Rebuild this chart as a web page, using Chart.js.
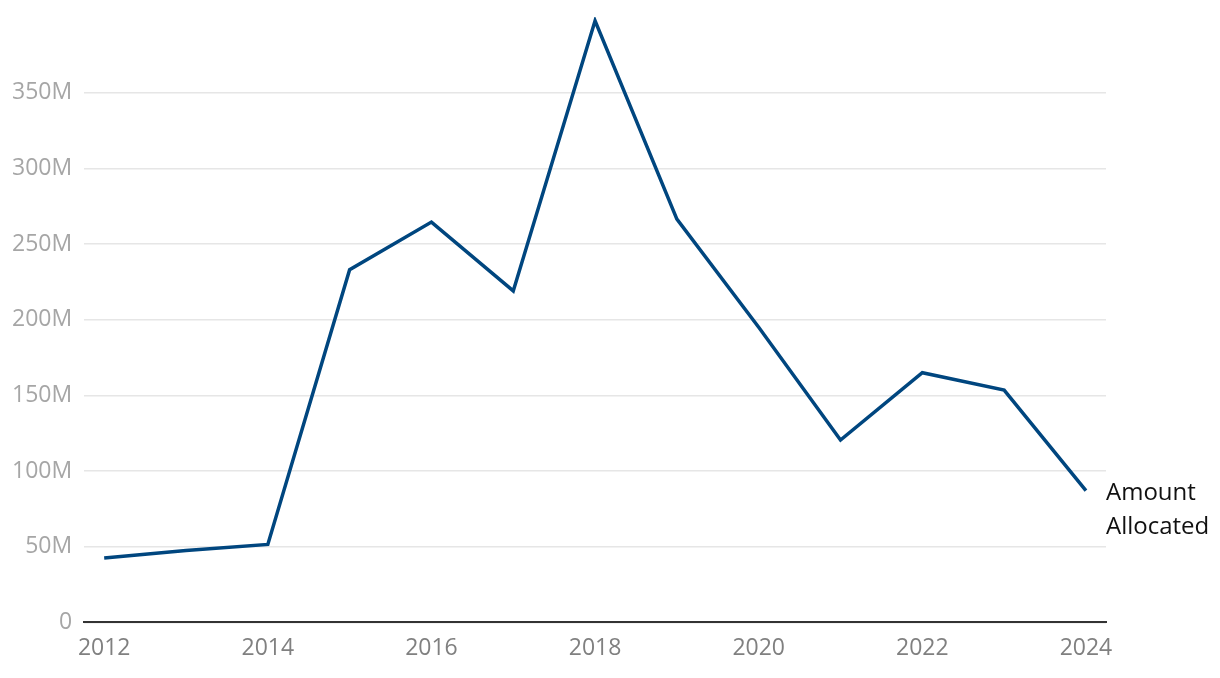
<!DOCTYPE html>
<html>
<head>
<meta charset="utf-8">
<script src="https://cdn.jsdelivr.net/npm/chart.js@4.4.1/dist/chart.umd.min.js"></script>
<style>
  html, body { margin: 0; padding: 0; background: #ffffff; }
  #wrap { width: 1220px; height: 678px; position: relative; }
</style>
</head>
<body>
<div id="wrap"><canvas id="c"></canvas></div>
<script>
const years = [2012, 2013, 2014, 2015, 2016, 2017, 2018, 2019, 2020, 2021, 2022, 2023, 2024];
const amountAllocated = [42.5e6, 47.5e6, 51.5e6, 233e6, 264.5e6, 219e6, 397.5e6, 266.5e6, 195e6, 120.5e6, 165e6, 153.5e6, 87e6];
const xTickLabels = [2012, 2014, 2016, 2018, 2020, 2022, 2024];
const yTickValues = [0, 50e6, 100e6, 150e6, 200e6, 250e6, 300e6, 350e6];
const seriesLabel = ['Amount', 'Allocated'];

const endLabel = {
  id: 'endLabel',
  afterDatasetsDraw(chart) {
    const meta = chart.getDatasetMeta(0);
    const last = meta.data[meta.data.length - 1];
    const ctx = chart.ctx;
    ctx.save();
    ctx.font = '24px "Open Sans"';
    ctx.fillStyle = '#111111';
    ctx.textAlign = 'left';
    ctx.textBaseline = 'middle';
    const x = chart.chartArea.right;
    ctx.fillText(seriesLabel[0], x, last.y + 2);
    ctx.fillText(seriesLabel[1], x, last.y + 36);
    ctx.restore();
  }
};

new Chart(document.getElementById('c'), {
  type: 'line',
  data: {
    datasets: [{
      label: seriesLabel.join(' '),
      data: years.map((y, i) => ({ x: y, y: amountAllocated[i] })),
      borderColor: '#00467f',
      borderWidth: 3.5,
      pointRadius: 0,
      tension: 0,
      fill: false
    }]
  },
  options: {
    responsive: true,
    maintainAspectRatio: false,
    animation: false,
    layout: { padding: { left: 0, right: 114, top: 17, bottom: 4 } },
    plugins: { legend: { display: false }, tooltip: { enabled: false } },
    scales: {
      x: {
        type: 'linear',
        min: 2011.755,
        max: 2024.245,
        afterBuildTicks(axis) { axis.ticks = xTickLabels.map(v => ({ value: v })); },
        grid: { display: false, drawTicks: false },
        border: { display: true, color: '#333333', width: 2 },
        ticks: {
          color: '#808080',
          font: { family: '"Open Sans"', size: 23 },
          padding: 12,
          maxRotation: 0,
          autoSkip: false,
          callback: v => String(v)
        }
      },
      y: {
        min: 0,
        max: 400e6,
        afterBuildTicks(axis) { axis.ticks = yTickValues.map(v => ({ value: v })); },
        afterFit(axis) { axis.paddingTop = 0; axis.paddingBottom = 0; },
        grid: { color: '#e6e6e6', lineWidth: 1.5, drawTicks: false },
        border: { display: false },
        ticks: {
          color: '#a6a6a6',
          font: { family: '"Open Sans"', size: 23 },
          padding: 12,
          callback: v => v === 0 ? '0' : (v / 1e6) + 'M'
        }
      }
    }
  },
  plugins: [endLabel]
});
</script>
</body>
</html>
